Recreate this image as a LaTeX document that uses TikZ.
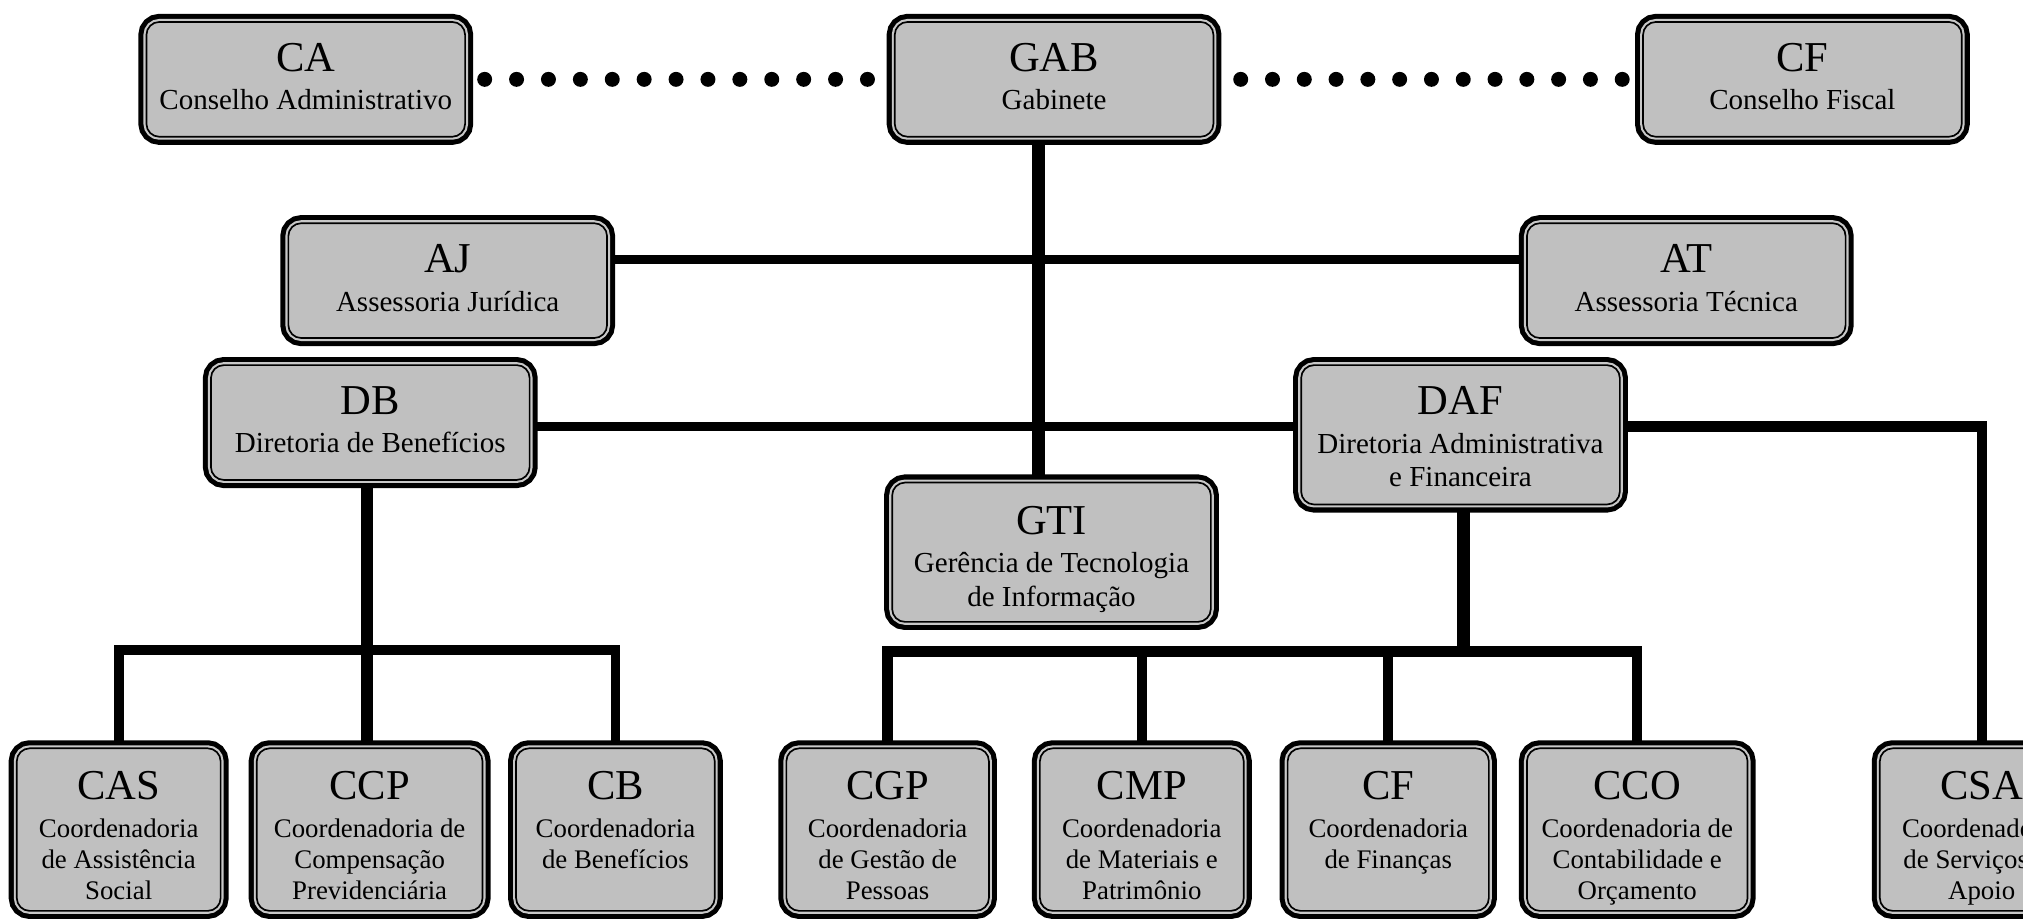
\documentclass[tikz,border=0pt]{standalone}
\usepackage{fontspec}
\setmainfont{Liberation Serif}
\usetikzlibrary{backgrounds,calc}
\definecolor{boxgray}{RGB}{192,192,192}
\definecolor{gapgray}{RGB}{200,200,200}
\newcommand\ttl[1]{{\fontsize{33}{33}\selectfont #1}}
\tikzset{
  orgbox/.style={rectangle, rounded corners=10pt, inner sep=0pt, fill=boxgray,
    draw=black, line width=1.3pt,
    preaction={draw=black, line width=12.5pt},
    preaction={draw=gapgray, line width=4.6pt}},
  topbox/.style={orgbox, minimum width=247pt, minimum height=89pt},
  tallbox/.style={orgbox, minimum width=247pt, minimum height=108pt},
  botbox/.style={orgbox, minimum height=126pt},
  toptext/.style={anchor=north, align=center, inner sep=0pt, font=\fontsize{22.5}{26}\selectfont},
  bottext/.style={anchor=north, align=center, inner sep=0pt, font=\fontsize{20.8}{23.8}\selectfont},
  conn/.style={draw=black, line width=#1, line join=miter, line cap=butt},
  dotfill/.style={fill=black},
}
\begin{document}
\begin{tikzpicture}[x=1pt,y=-1pt]
\useasboundingbox (0,0) rectangle (1568,713);
\clip (0,0) rectangle (1568,713);

% top row
\node[topbox] (CA) at (237,61.5) {};
\node[toptext] (CA-t) at ([yshift=-16.8pt]CA.north) {\ttl{CA}\\[4pt]Conselho Administrativo};
\node[topbox] (GAB) at (817,61.5) {};
\node[toptext] (GAB-t) at ([yshift=-16.8pt]GAB.north) {\ttl{GAB}\\[4pt]Gabinete};
\node[topbox] (CFc) at (1397,61.5) {};
\node[toptext] (CFc-t) at ([yshift=-16.8pt]CFc.north) {\ttl{CF}\\[4pt]Conselho Fiscal};

% second row
\node[topbox] (AJ) at (347,217.5) {};
\node[toptext] (AJ-t) at ([yshift=-16.8pt]AJ.north) {\ttl{AJ}\\[4pt]Assessoria Jurídica};
\node[topbox] (AT) at (1307,217.5) {};
\node[toptext] (AT-t) at ([yshift=-16.8pt]AT.north) {\ttl{AT}\\[4pt]Assessoria Técnica};

% third row
\node[topbox] (DB) at (287,327.5) {};
\node[toptext] (DB-t) at ([yshift=-16.8pt]DB.north) {\ttl{DB}\\[4pt]Diretoria de Benefícios};
\node[tallbox] (DAF) at (1132,337) {};
\node[toptext] (DAF-t) at ([yshift=-16.8pt]DAF.north) {\ttl{DAF}\\[4pt]Diretoria Administrativa\\e Financeira};
\node[tallbox] (GTI) at (815,428) {};
\node[toptext] (GTI-t) at ([yshift=-18.5pt]GTI.north) {\ttl{GTI}\\[4pt]Gerência de Tecnologia\\de Informação};

% bottom row
\node[botbox, minimum width=158pt] (CAS) at (92,643) {};
\node[bottext] (CAS-t) at ([yshift=-18.1pt]CAS.north) {\ttl{CAS}\\[6pt]Coordenadoria\\de Assistência\\Social};
\node[botbox, minimum width=175pt] (CCP) at (286.5,643) {};
\node[bottext] (CCP-t) at ([yshift=-18.1pt]CCP.north) {\ttl{CCP}\\[6pt]Coordenadoria de\\Compensação\\Previdenciária};
\node[botbox, minimum width=154pt] (CB) at (477,643) {};
\node[bottext] (CB-t) at ([yshift=-18.1pt]CB.north) {\ttl{CB}\\[6pt]Coordenadoria\\de Benefícios};
\node[botbox, minimum width=157pt] (CGP) at (688,643) {};
\node[bottext] (CGP-t) at ([yshift=-18.1pt]CGP.north) {\ttl{CGP}\\[6pt]Coordenadoria\\de Gestão de\\Pessoas};
\node[botbox, minimum width=158pt] (CMP) at (885,643) {};
\node[bottext] (CMP-t) at ([yshift=-18.1pt]CMP.north) {\ttl{CMP}\\[6pt]Coordenadoria\\de Materiais e\\Patrimônio};
\node[botbox, minimum width=156pt] (CFn) at (1076,643) {};
\node[bottext] (CFn-t) at ([yshift=-18.1pt]CFn.north) {\ttl{CF}\\[6pt]Coordenadoria\\de Finanças};
\node[botbox, minimum width=171pt] (CCO) at (1269,643) {};
\node[bottext] (CCO-t) at ([yshift=-18.1pt]CCO.north) {\ttl{CCO}\\[6pt]Coordenadoria de\\Contabilidade e\\Orçamento};
\node[botbox, minimum width=158pt] (CSA) at (1536,643) {};
\node[bottext] (CSA-t) at ([yshift=-18.1pt]CSA.north) {\ttl{CSA}\\[6pt]Coordenadoria\\de Serviços de\\Apoio};

\coordinate (dbj) at (284.5,504);
\coordinate (dafj) at (1134,505);
\coordinate (d1s) at ([xshift=14.5pt]CA.east);
\coordinate (d1e) at ([xshift=-20.5pt]GAB.west);
\coordinate (d2s) at ([xshift=20.5pt]GAB.east);
\coordinate (d2e) at ([xshift=-15.5pt]CFc.west);

\begin{pgfonlayer}{background}
  \fill[white] (0,0) rectangle (1568,713);
  % dotted links
  \foreach \i in {0,...,12} {
    \fill[dotfill] ($(d1s)!\i/12!(d1e)$) circle[radius=5.8pt];
    \fill[dotfill] ($(d2s)!\i/12!(d2e)$) circle[radius=5.8pt];
  }
  % GAB to GTI
  \draw[conn=10.3pt] ([xshift=-12pt]GAB.south) -- ([xshift=-12pt]GAB.south |- GTI.north);
  % AJ -- AT
  \draw[conn=7pt] ([yshift=16.5pt]AJ.east) -- ([yshift=16.5pt]AJ.east -| AT.west);
  % DB -- DAF
  \draw[conn=7.5pt] ([yshift=-3pt]DB.east) -- ([yshift=-3pt]DB.east -| DAF.west);
  % DAF -- CSA
  \draw[conn=8pt] ([yshift=-3pt]DB.east -| DAF.east) -| (CSA.north);
  % DB down
  \draw[conn=9.5pt] ([xshift=-2.5pt]DB.south) -- ([xshift=-2.5pt]DB.south |- CCP.north);
  \draw[conn=7.5pt] (CAS.north) |- (dbj) -| (CB.north);
  % DAF down
  \draw[conn=10pt] ([xshift=2pt]DAF.south) -- (dafj);
  \draw[conn=8pt] (CGP.north) |- (dafj) -| (CCO.north);
  \draw[conn=8pt] (CMP.north) -- (CMP.north |- dafj);
  \draw[conn=8pt] (CFn.north) -- (CFn.north |- dafj);
\end{pgfonlayer}
\end{tikzpicture}
\end{document}
